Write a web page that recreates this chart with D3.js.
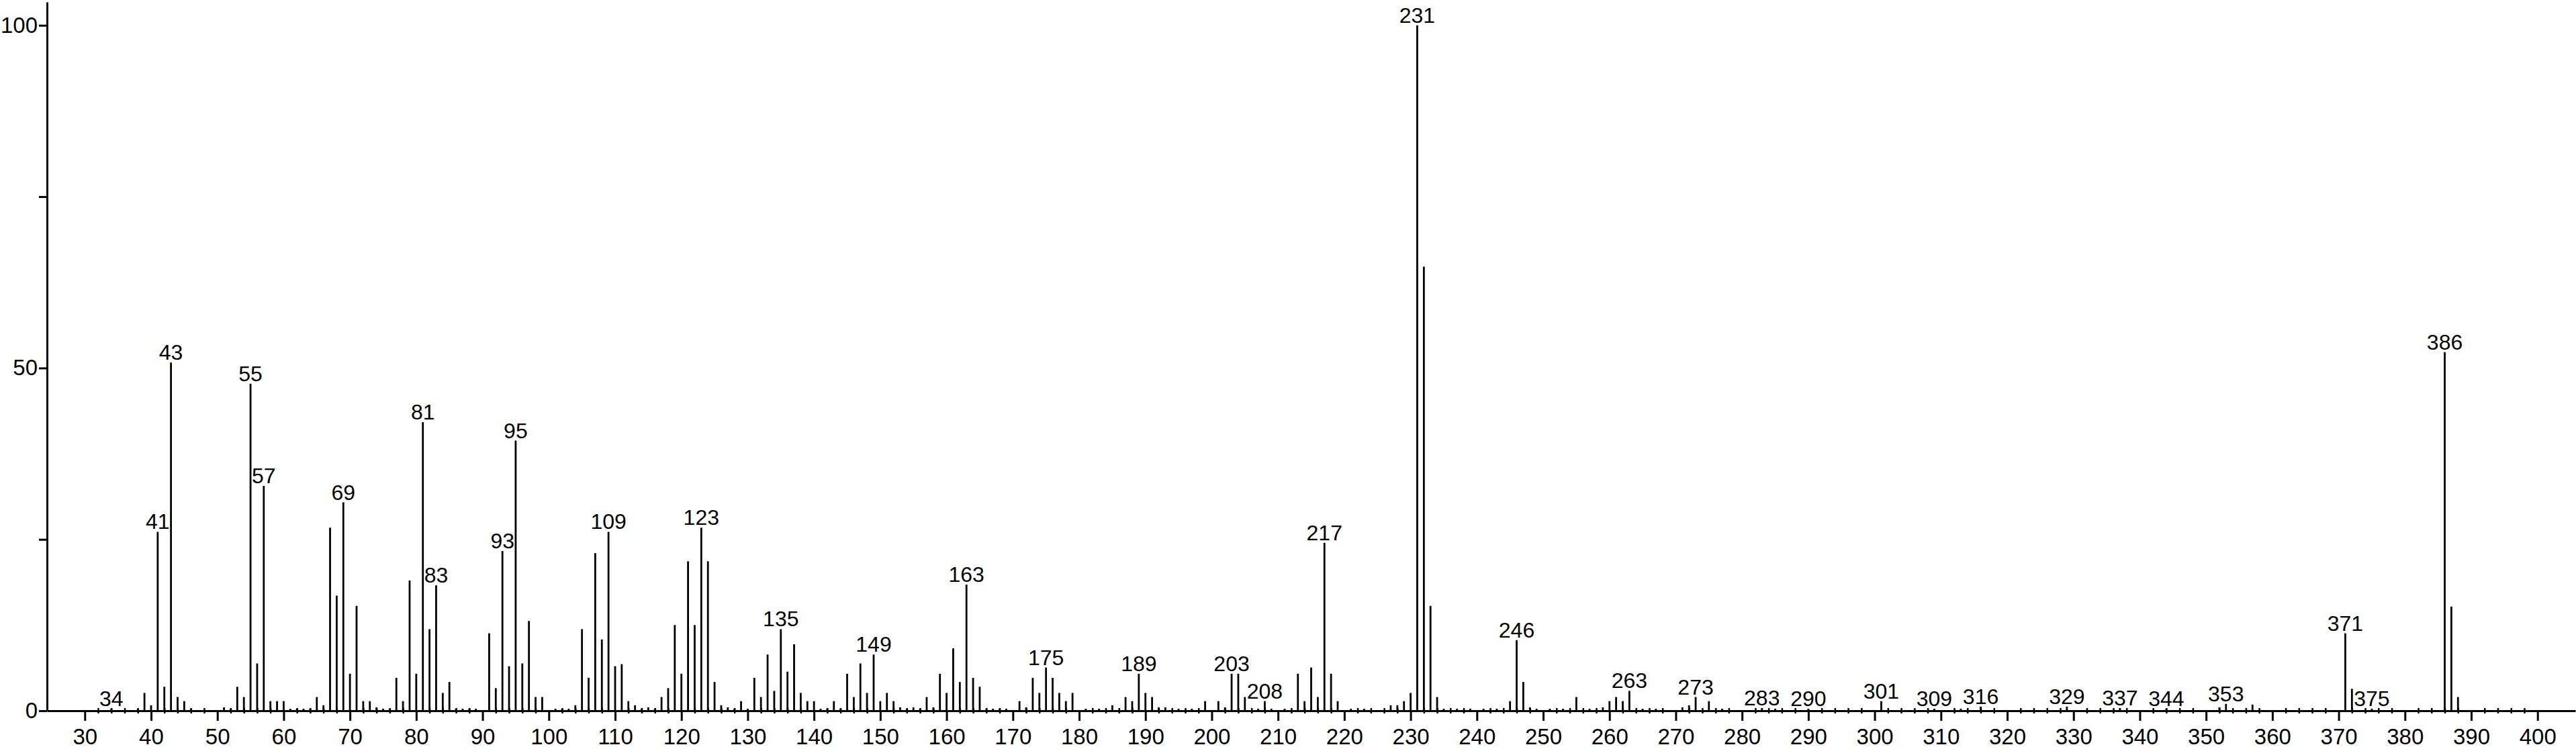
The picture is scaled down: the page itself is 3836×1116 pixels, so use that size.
<!DOCTYPE html>
<html>
<head>
<meta charset="utf-8">
<script src="https://cdn.jsdelivr.net/npm/d3@7"></script>
<style>
  body { margin: 0; background: #fff; }
  text { font-family: "Liberation Sans", Arial, sans-serif; fill: #000; }
</style>
</head>
<body>
<svg id="chart"></svg>
<script>
// m/z values and relative intensity (%)
const mz = [34, 38, 39, 40, 41, 42, 43, 44, 45, 46, 51, 52, 53, 54, 55, 56, 57, 58, 59, 60,
  61, 62, 63, 64, 65, 66, 67, 68, 69, 70, 71, 72, 73, 74, 75, 76, 77, 78, 79, 80,
  81, 82, 83, 84, 85, 86, 87, 88, 89, 91, 92, 93, 94, 95, 96, 97, 98, 99, 101, 102,
  103, 104, 105, 106, 107, 108, 109, 110, 111, 112, 113, 114, 115, 116, 117, 118, 119, 120, 121, 122,
  123, 124, 125, 126, 127, 128, 129, 130, 131, 132, 133, 134, 135, 136, 137, 138, 139, 140, 141, 142,
  143, 144, 145, 146, 147, 148, 149, 150, 151, 152, 153, 154, 155, 156, 157, 158, 159, 160, 161, 162,
  163, 164, 165, 166, 167, 168, 169, 171, 172, 173, 174, 175, 176, 177, 178, 179, 181, 183, 185, 187,
  188, 189, 190, 191, 192, 193, 195, 197, 199, 201, 202, 203, 204, 205, 207, 208, 209, 211, 213, 214,
  215, 216, 217, 218, 219, 221, 223, 227, 228, 229, 230, 231, 232, 233, 234, 235, 237, 239, 241, 243,
  245, 246, 247, 248, 249, 251, 253, 255, 257, 259, 260, 261, 262, 263, 265, 267, 271, 272, 273, 275,
  277, 283, 285, 290, 301, 309, 313, 316, 329, 337, 344, 352, 353, 357, 371, 372, 375, 386, 387, 388];

const intensity = [0.3, 0.3, 2.6, 0.8, 26.1, 3.5, 50.8, 2.0, 1.4, 0.3, 0.5, 0.3, 3.5, 2.0, 47.7, 6.9, 32.8, 1.4, 1.4, 1.4,
  0.3, 0.3, 0.3, 0.3, 2.0, 0.8, 26.7, 16.8, 30.4, 5.4, 15.3, 1.4, 1.4, 0.5, 0.3, 0.3, 4.8, 1.4, 19.0, 5.4,
  42.1, 11.9, 18.3, 2.6, 4.2, 0.3, 0.3, 0.3, 0.3, 11.3, 3.3, 23.3, 6.5, 39.4, 6.9, 13.1, 2.0, 2.0, 0.3, 0.3,
  0.3, 0.8, 11.9, 4.8, 23.0, 10.4, 26.1, 6.5, 6.8, 1.4, 0.8, 0.3, 0.5, 0.3, 2.0, 3.3, 12.5, 5.4, 21.8, 12.5,
  26.7, 21.8, 4.2, 0.8, 0.5, 0.3, 1.4, 0.3, 4.8, 2.0, 8.2, 2.9, 11.9, 5.7, 9.7, 2.6, 1.4, 1.4, 0.3, 0.3,
  1.4, 0.3, 5.4, 2.0, 6.9, 2.6, 8.2, 1.4, 2.6, 1.4, 0.5, 0.3, 0.5, 0.3, 2.0, 0.5, 5.4, 2.6, 9.1, 4.2,
  18.4, 4.8, 3.5, 0.3, 0.3, 0.3, 0.3, 1.4, 0.5, 4.8, 2.6, 6.3, 4.8, 2.6, 1.4, 2.6, 0.3, 0.3, 0.8, 2.0,
  1.4, 5.4, 2.6, 2.0, 0.5, 0.5, 0.3, 0.3, 1.4, 1.4, 0.5, 5.4, 5.4, 2.0, 0.3, 1.4, 0.3, 0.3, 5.4, 1.4,
  6.3, 2.0, 24.5, 5.4, 1.4, 0.3, 0.3, 0.8, 0.8, 1.4, 2.6, 100, 64.8, 15.3, 2.0, 0.3, 0.3, 0.3, 0.3, 0.3,
  1.4, 10.3, 4.2, 0.5, 0.3, 0.3, 0.3, 2.0, 0.3, 0.5, 1.4, 2.0, 1.4, 2.9, 0.3, 0.3, 0.5, 0.8, 2.0, 1.4,
  0.3, 0.4, 0.3, 0.3, 1.4, 0.3, 0.3, 0.6, 0.6, 0.4, 0.3, 0.5, 1.0, 0.9, 11.3, 3.2, 0.3, 52.3, 15.2, 2.0];

// peaks that carry an m/z label
const labelled = [34, 41, 43, 55, 57, 69, 81, 83, 93, 95, 109, 123, 135, 149, 163, 175, 189, 203, 208,
  217, 231, 246, 263, 273, 283, 290, 301, 309, 316, 329, 337, 344, 353, 371, 375, 386];

const xMajor = d3.range(30, 401, 10);
const xMinor = d3.range(32, 401, 2).filter(function (d) { return d % 10 !== 0; });
const yTicks = [0, 25, 50, 75, 100];
const yLabels = [0, 50, 100];

const svgWidth = 3836, svgHeight = 1116;
const plotLeft = 70, plotRight = 3835, plotTop = 3, plotBase = 1059;

const svg = d3.select("#chart")
  .attr("width", svgWidth)
  .attr("height", svgHeight);

const x = d3.scaleLinear().domain([24.3, 405.7]).range([plotLeft, plotRight]);
const y = d3.scaleLinear().domain([0, 103.4]).range([plotBase, plotTop]);

const peaks = mz.map(function (m, i) { return { mz: m, v: intensity[i] }; });

// peaks
svg.append("g")
  .selectAll("line")
  .data(peaks)
  .enter()
  .append("line")
  .attr("x1", function (d) { return x(d.mz); })
  .attr("x2", function (d) { return x(d.mz); })
  .attr("y1", y(0))
  .attr("y2", function (d) { return y(d.v); })
  .attr("stroke", "#000")
  .attr("stroke-width", 2.8);

// peak labels
svg.append("g")
  .selectAll("text")
  .data(peaks.filter(function (d) { return labelled.indexOf(d.mz) >= 0; }))
  .enter()
  .append("text")
  .attr("x", function (d) { return x(d.mz); })
  .attr("y", function (d) { return y(d.v) - 4; })
  .attr("text-anchor", "middle")
  .attr("font-size", 32)
  .text(function (d) { return d.mz; });

// x axis, minor ticks
const gMinor = svg.append("g")
  .attr("transform", "translate(0," + plotBase + ")")
  .call(d3.axisBottom(x).tickValues(xMinor).tickSize(4).tickFormat(""));
gMinor.select(".domain").remove();
gMinor.selectAll(".tick line")
  .attr("y1", -4)
  .attr("y2", 4)
  .attr("stroke-width", 2.5);

// x axis, major ticks
const gx = svg.append("g")
  .attr("transform", "translate(0," + plotBase + ")")
  .call(d3.axisBottom(x).tickValues(xMajor).tickSize(15).tickSizeOuter(0).tickPadding(12));
gx.select(".domain").attr("stroke-width", 3);
gx.selectAll(".tick line").attr("stroke-width", 3);
gx.selectAll(".tick text")
  .attr("font-size", 33)
  .attr("font-family", "Liberation Sans, Arial, sans-serif");

// y axis
const gy = svg.append("g")
  .attr("transform", "translate(" + plotLeft + ",0)")
  .call(d3.axisLeft(y).tickValues(yTicks).tickSize(12).tickSizeOuter(0).tickPadding(2)
    .tickFormat(function (d) { return yLabels.indexOf(d) >= 0 ? d : ""; }));
gy.select(".domain").attr("stroke-width", 3);
gy.selectAll(".tick line").attr("stroke-width", 3);
gy.selectAll(".tick text")
  .attr("font-size", 33)
  .attr("font-family", "Liberation Sans, Arial, sans-serif");
</script>
</body>
</html>
